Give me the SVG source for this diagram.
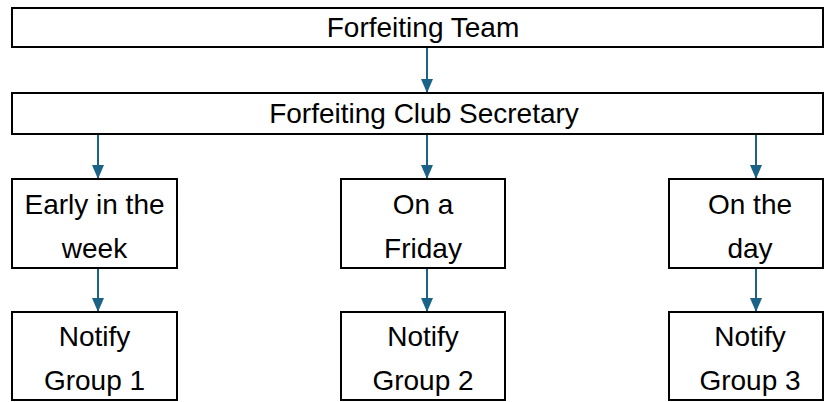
<svg xmlns="http://www.w3.org/2000/svg" width="824" height="402" viewBox="0 0 824 402">
<style>
.box{fill:#fff;stroke:#000;stroke-width:2}
.t{font-family:"Liberation Sans",Arial,sans-serif;font-size:28px;fill:#000;text-anchor:middle}
.c{stroke:#1b6386;stroke-width:2;fill:none}
</style>
<defs>
<marker id="ah" viewBox="0 0 14 12" refX="14" refY="6" markerWidth="14" markerHeight="12" markerUnits="userSpaceOnUse" orient="auto">
<path d="M0,0 L14,6 L0,12 Z" fill="#1b6386"/>
</marker>
</defs>
<rect width="824" height="402" fill="#fff"/>
<g id="connectors">
<line class="c" x1="427" y1="47" x2="427" y2="93" marker-end="url(#ah)"/>
<line class="c" x1="98" y1="134" x2="98" y2="179" marker-end="url(#ah)"/>
<line class="c" x1="427" y1="134" x2="427" y2="179" marker-end="url(#ah)"/>
<line class="c" x1="756" y1="134" x2="756" y2="179" marker-end="url(#ah)"/>
<line class="c" x1="98" y1="268" x2="98" y2="312" marker-end="url(#ah)"/>
<line class="c" x1="427" y1="268" x2="427" y2="312" marker-end="url(#ah)"/>
<line class="c" x1="756" y1="268" x2="756" y2="312" marker-end="url(#ah)"/>
</g>
<g id="team">
<rect class="box" x="12" y="8" width="811" height="39"/>
<text class="t" x="423" y="37">Forfeiting Team</text>
</g>
<g id="secretary">
<rect class="box" x="12" y="93" width="811" height="41"/>
<text class="t" x="424" y="123">Forfeiting Club Secretary</text>
</g>
<g id="early">
<rect class="box" x="12" y="179" width="165" height="89"/>
<text class="t" x="94.5" y="214">Early in the</text>
<text class="t" x="94.5" y="258">week</text>
</g>
<g id="friday">
<rect class="box" x="341" y="179" width="164" height="89"/>
<text class="t" x="423" y="214">On a</text>
<text class="t" x="423" y="258">Friday</text>
</g>
<g id="day">
<rect class="box" x="669" y="179" width="154" height="89"/>
<text class="t" x="750" y="214">On the</text>
<text class="t" x="750" y="258">day</text>
</g>
<g id="group1">
<rect class="box" x="12" y="312" width="165" height="88"/>
<text class="t" x="94.5" y="346">Notify</text>
<text class="t" x="94.5" y="390">Group 1</text>
</g>
<g id="group2">
<rect class="box" x="341" y="312" width="164" height="88"/>
<text class="t" x="423" y="346">Notify</text>
<text class="t" x="423" y="390">Group 2</text>
</g>
<g id="group3">
<rect class="box" x="669" y="312" width="154" height="88"/>
<text class="t" x="750" y="346">Notify</text>
<text class="t" x="750" y="390">Group 3</text>
</g>
</svg>
